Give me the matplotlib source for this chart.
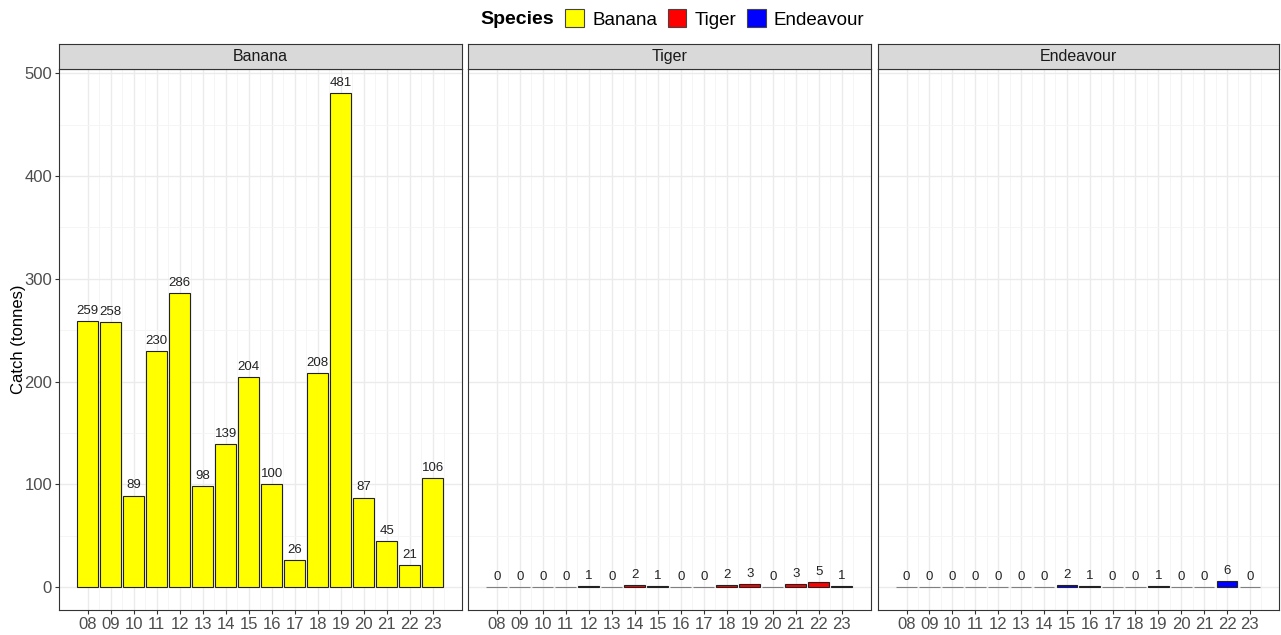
import numpy as np
import matplotlib.pyplot as plt
from matplotlib.patches import Patch

plt.rcParams['font.family'] = ['Liberation Sans', 'DejaVu Sans']

years = ['08', '09', '10', '11', '12', '13', '14', '15',
         '16', '17', '18', '19', '20', '21', '22', '23']
species = ['Banana', 'Tiger', 'Endeavour']
colours = ['#ffff00', '#ff0000', '#0000ff']

banana = [259, 258, 89, 230, 286, 98, 139, 204, 100, 26, 208, 481, 87, 45, 21, 106]
tiger = [0, 0, 0, 0, 1, 0, 2, 1, 0, 0, 2, 3, 0, 3, 5, 1]
endeavour = [0, 0, 0, 0, 0, 0, 0, 2, 1, 0, 0, 1, 0, 0, 6, 0]
catches = [banana, tiger, endeavour]

W, H = 1281, 635
fig = plt.figure(figsize=(W / 100, H / 100), dpi=100)

panels = [(59, 462), (468, 871), (878, 1279)]
top, bottom, strip_top = 69, 610, 44

x = np.arange(len(years))
for i, (sp, vals, col) in enumerate(zip(species, catches, colours)):
    x0, x1 = panels[i]
    ax = fig.add_axes([x0 / W, 1 - bottom / H, (x1 - x0) / W, (bottom - top) / H])
    ax.set_xlim(-1.25, 16.27)
    ax.set_ylim(-22.4, 504.3)
    ax.set_xticks(x)
    ax.set_xticks(x + 0.5, minor=True)
    ax.set_yticks([0, 100, 200, 300, 400, 500])
    ax.set_yticks([50, 150, 250, 350, 450], minor=True)
    ax.grid(which='major', color='#ebebeb', lw=1.0)
    ax.grid(which='minor', color='#f4f4f4', lw=0.6)
    ax.set_axisbelow(True)
    vals = np.array(vals)
    edges = ['#222222' if v > 0 else '#808080' for v in vals]
    ax.bar(x, vals, width=0.9, color=col, edgecolor=edges, linewidth=0.8)
    for xi, v in zip(x, vals):
        ax.annotate(str(v), (xi, v), xytext=(0, 3), textcoords='offset points',
                    ha='center', va='bottom', fontsize=9.5, color='#222222')
    ax.set_xticklabels(years, fontsize=12, color='#4d4d4d')
    ax.tick_params(which='major', length=3, color='#333333', pad=2)
    ax.tick_params(which='minor', length=0)
    if i == 0:
        ax.tick_params(axis='y', labelsize=12, labelcolor='#4d4d4d')
        ax.set_ylabel('Catch (tonnes)', fontsize=12, color='black', labelpad=-1)
    else:
        ax.tick_params(axis='y', left=False, labelleft=False)
    for s in ax.spines.values():
        s.set_color('#333333')
        s.set_linewidth(0.8)

    sax = fig.add_axes([x0 / W, 1 - top / H, (x1 - x0) / W, (top - strip_top) / H])
    sax.set_xticks([])
    sax.set_yticks([])
    sax.set_facecolor('#d9d9d9')
    for s in sax.spines.values():
        s.set_color('#333333')
        s.set_linewidth(0.8)
    sax.text(0.5, 0.5, sp, ha='center', va='center', fontsize=11.5, color='#1a1a1a',
             transform=sax.transAxes)

fig.text(517 / W, 1 - 19 / H, 'Species', ha='center', va='center',
         fontsize=14, fontweight='bold')
handles = [Patch(facecolor=c, edgecolor='#444444', lw=0.8) for c in colours]
fig.legend(handles, species, loc='center left', bbox_to_anchor=(565 / W, 1 - 19 / H),
           ncol=3, frameon=False, fontsize=13.5, handlelength=1.0, handleheight=1.1,
           handletextpad=0.45, columnspacing=0.55, borderaxespad=0, borderpad=0)

fig.savefig('out.png', dpi=100)
